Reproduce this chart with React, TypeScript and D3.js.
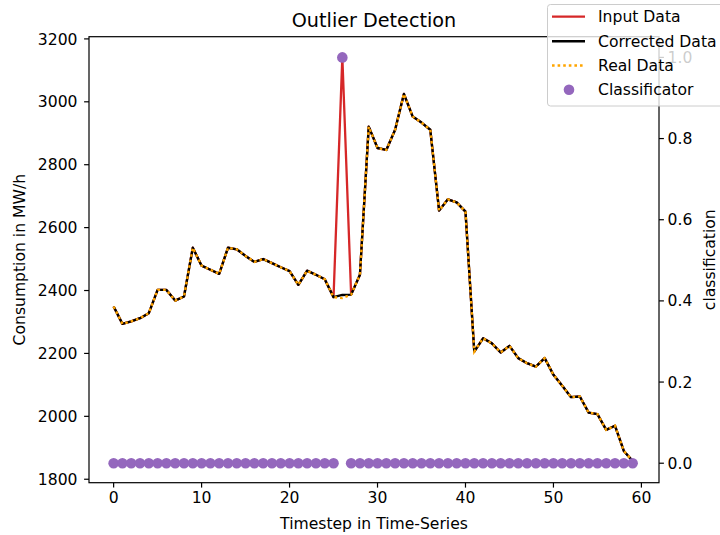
import React from "react";
import * as d3 from "d3";

const corrected: number[] = [
  2349, 2294, 2302, 2312, 2328, 2402, 2402, 2368, 2381, 2536,
  2479, 2466, 2453, 2536, 2531, 2510, 2491, 2500, 2487, 2474,
  2462, 2418, 2463, 2450, 2436, 2379, 2386, 2387, 2450, 2921,
  2853, 2847, 2911, 3025, 2953, 2934, 2911, 2654, 2690, 2680,
  2651, 2206, 2248, 2232, 2203, 2224, 2185, 2169, 2158, 2185,
  2132, 2097, 2061, 2063, 2012, 2007, 1957, 1970, 1890, 1858,
];
const outlierIndex = 26;
const outlierValue = 3142;
const realAtOutlier = 2376;
const inputData: number[] = corrected.map((v, i) => (i === outlierIndex ? outlierValue : v));
const realData: number[] = corrected.map((v, i) => (i === outlierIndex ? realAtOutlier : v));
const classification: number[] = corrected.map((_, i) => (i === outlierIndex ? 1 : 0));

const xTicks = [0, 10, 20, 30, 40, 50, 60];
const yTicks = [1800, 2000, 2200, 2400, 2600, 2800, 3000, 3200];
const rTicks = [0, 0.2, 0.4, 0.6, 0.8, 1.0];
const legendItems = ["Input Data", "Corrected Data", "Real Data", "Classificator"];

const FONT = "DejaVu Sans, sans-serif";

export default function App() {
  const left = 89, right = 659, top = 36.7, bottom = 482.7;
  const x = d3.scaleLinear().domain([-2.8, 62]).range([left, right]);
  const yL = d3.scaleLinear().domain([1789, 3207]).range([bottom, top]);
  const yR = d3.scaleLinear().domain([-0.048, 1.051]).range([bottom, top]);
  const idx = d3.range(corrected.length);
  const line = (arr: number[]) =>
    d3.line<number>().x((i) => x(i)).y((i) => yL(arr[i]))(idx) || "";

  const red = "#d62728", purple = "#9467bd", orange = "#FFA500";
  const fs = 15.6;
  const legX = 547.5, legY = 4.5;
  const rows = [16.7, 41.3, 65.5, 89.8];

  return (
    <svg width={720} height={535} style={{ position: "absolute", left: 0, top: 0 }} fontFamily={FONT}>
      <rect x={0} y={0} width={720} height={535} fill="#fff" />
      <defs>
        <clipPath id="plotclip">
          <rect x={left} y={top} width={right - left} height={bottom - top} />
        </clipPath>
      </defs>
      <g clipPath="url(#plotclip)">
        <path d={line(inputData)} fill="none" stroke={red} strokeWidth={2.3} strokeLinejoin="round" />
        <path d={line(corrected)} fill="none" stroke="#000" strokeWidth={2.4} strokeLinejoin="round" />
        <path d={line(realData)} fill="none" stroke={orange} strokeWidth={2.4} strokeDasharray="2.6,3" />
        {idx.map((i) => (
          <circle key={i} cx={x(i)} cy={yR(classification[i])} r={5.3} fill={purple} />
        ))}
      </g>
      {/* spines */}
      <rect x={left} y={top} width={right - left} height={bottom - top} fill="none" stroke="#000" strokeWidth={1.2} />
      {/* x ticks */}
      {xTicks.map((t) => (
        <g key={t}>
          <line x1={x(t)} x2={x(t)} y1={bottom} y2={bottom + 4.9} stroke="#000" strokeWidth={1.2} />
          <text x={x(t)} y={bottom + 20.5} fontSize={fs} textAnchor="middle" fill="#000">{t}</text>
        </g>
      ))}
      {/* left y ticks */}
      {yTicks.map((t) => (
        <g key={t}>
          <line x1={left - 4.9} x2={left} y1={yL(t)} y2={yL(t)} stroke="#000" strokeWidth={1.2} />
          <text x={left - 11.5} y={yL(t) + 5.6} fontSize={fs} textAnchor="end" fill="#000">{t}</text>
        </g>
      ))}
      {/* right y ticks */}
      {rTicks.map((t) => (
        <g key={t}>
          <line x1={right} x2={right + 4.9} y1={yR(t)} y2={yR(t)} stroke="#000" strokeWidth={1.2} />
          <text x={right + 8.5} y={yR(t) + 5.6} fontSize={fs} textAnchor="start" fill="#000">{t.toFixed(1)}</text>
        </g>
      ))}
      <text x={(left + right) / 2} y={26.5} fontSize={19.2} textAnchor="middle" fill="#000">Outlier Detection</text>
      <text x={(left + right) / 2} y={529} fontSize={fs} textAnchor="middle" fill="#000">Timestep in Time-Series</text>
      <text transform={`translate(25,${(top + bottom) / 2}) rotate(-90)`} fontSize={fs} textAnchor="middle" fill="#000">Consumption in MW/h</text>
      <text transform={`translate(715,${(top + bottom) / 2}) rotate(-90)`} fontSize={fs} textAnchor="middle" fill="#000">classification</text>
      {/* legend */}
      <rect x={legX} y={legY} width={190} height={101.5} rx={3} fill="#fff" fillOpacity={0.8} stroke="#cccccc" strokeWidth={1} />
      {legendItems.map((name, i) => {
        const yy = rows[i];
        return (
          <g key={name}>
            {i === 0 && <line x1={552} x2={585} y1={yy} y2={yy} stroke={red} strokeWidth={2.3} />}
            {i === 1 && <line x1={552} x2={585} y1={yy} y2={yy} stroke="#000" strokeWidth={2.4} />}
            {i === 2 && <line x1={552} x2={585} y1={yy} y2={yy} stroke={orange} strokeWidth={2.4} strokeDasharray="2.6,3" />}
            {i === 3 && <circle cx={569} cy={yy} r={5.3} fill={purple} />}
            <text x={598} y={yy + 5.5} fontSize={fs} fill="#000">{name}</text>
          </g>
        );
      })}
    </svg>
  );
}
